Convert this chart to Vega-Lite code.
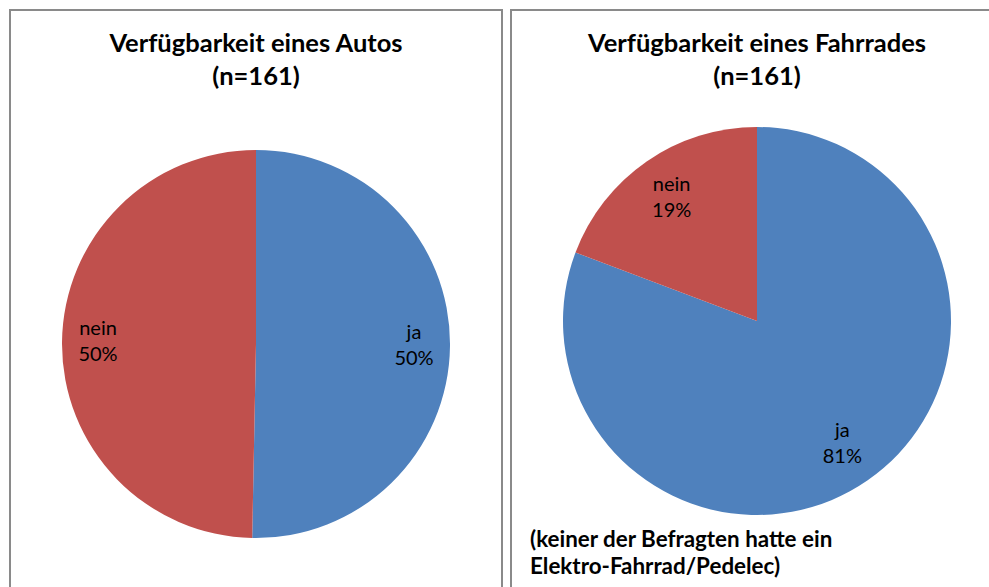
{
  "$schema": "https://vega.github.io/schema/vega-lite/v6.json",
  "padding": {"left": 9, "top": 9, "right": 0, "bottom": 0},
  "background": "white",
  "spacing": 7,
  "config": {
    "view": {"stroke": "#8a8a8a", "strokeWidth": 2},
    "font": "Lato",
    "title": {"font": "Lato", "color": "black"}
  },
  "datasets": {
    "auto": [
      {"antwort": "ja", "anzahl": 81, "label": "ja\n50%", "reihenfolge": 1},
      {"antwort": "nein", "anzahl": 80, "label": "nein\n50%", "reihenfolge": 2}
    ],
    "fahrrad": [
      {"antwort": "ja", "anzahl": 130, "label": "ja\n81%", "reihenfolge": 1},
      {"antwort": "nein", "anzahl": 31, "label": "nein\n19%", "reihenfolge": 2}
    ]
  },
  "hconcat": [
    {
      "width": 492,
      "height": 668,
      "view": {"stroke": "#8a8a8a", "strokeWidth": 2},
      "title": {
        "text": ["Verfügbarkeit eines Autos", "(n=161)"],
        "fontSize": 25.5,
        "fontWeight": "bold",
        "lineHeight": 33,
        "anchor": "middle",
        "frame": "group",
        "offset": -80
      },
      "data": {"name": "auto"},
      "encoding": {
        "theta": {"field": "anzahl", "type": "quantitative", "stack": true},
        "order": {"field": "reihenfolge", "type": "quantitative"}
      },
      "layer": [
        {
          "mark": {"type": "arc", "radius": 194, "stroke": null},
          "encoding": {
            "color": {
              "field": "antwort",
              "type": "nominal",
              "scale": {"domain": ["ja", "nein"], "range": ["#4F81BD", "#C0504D"]},
              "legend": null
            }
          }
        },
        {
          "mark": {"type": "text", "radius": 158, "fontSize": 20, "lineBreak": "\n", "lineHeight": 26, "align": "center", "baseline": "middle", "dy": -13, "color": "black"},
          "encoding": {"text": {"field": "label", "type": "nominal"}}
        }
      ]
    },
    {
      "title": {
        "text": ["(keiner der Befragten hatte ein", "Elektro-Fahrrad/Pedelec)"],
        "orient": "bottom",
        "anchor": "start",
        "frame": "group",
        "fontSize": 22.4,
        "fontWeight": "bold",
        "lineHeight": 27,
        "dx": 19,
        "offset": -104
      },
      "vconcat": [
        {
          "width": 492,
          "height": 622,
          "view": {"stroke": "#8a8a8a", "strokeWidth": 2},
          "title": {
            "text": ["Verfügbarkeit eines Fahrrades", "(n=161)"],
            "fontSize": 25.5,
            "fontWeight": "bold",
            "lineHeight": 33,
            "anchor": "middle",
            "frame": "group",
            "offset": -80
          },
          "data": {"name": "fahrrad"},
          "encoding": {
            "theta": {"field": "anzahl", "type": "quantitative", "stack": true},
            "order": {"field": "reihenfolge", "type": "quantitative"}
          },
          "layer": [
            {
              "mark": {"type": "arc", "radius": 194, "stroke": null},
              "encoding": {
                "color": {
                  "field": "antwort",
                  "type": "nominal",
                  "scale": {"domain": ["ja", "nein"], "range": ["#4F81BD", "#C0504D"]},
                  "legend": null
                }
              }
            },
            {
              "mark": {"type": "text", "radius": 150, "fontSize": 20, "lineBreak": "\n", "lineHeight": 26, "align": "center", "baseline": "middle", "dy": -13, "color": "black"},
              "encoding": {"text": {"field": "label", "type": "nominal"}}
            }
          ]
        }
      ]
    }
  ]
}
